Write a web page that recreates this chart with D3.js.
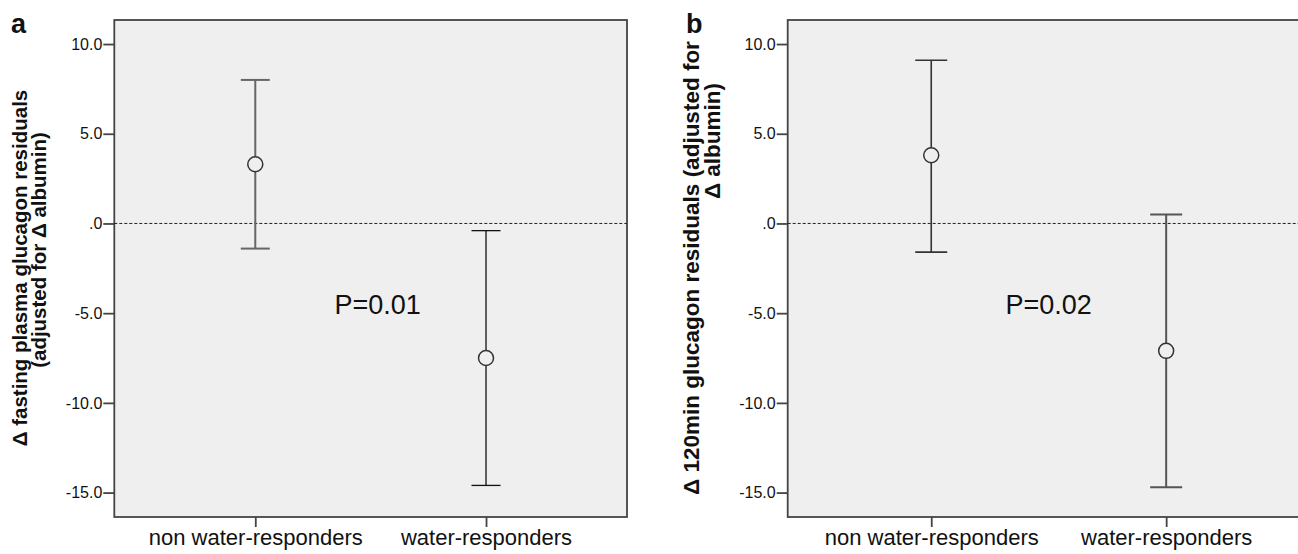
<!DOCTYPE html>
<meta charset="utf-8">
<script src="https://d3js.org/d3.v7.min.js"></script>
<style>
  body { margin: 0; background: #fff; }
  text { font-family: "Liberation Sans", Arial, sans-serif; fill: #111; }
</style>
<div id="chart"></div>
<script>
// data
var groups = ["non water-responders", "water-responders"];
var meanA = [3.3, -7.5];
var lowerA = [-1.4, -14.6];
var upperA = [8.0, -0.4];
var meanB = [3.8, -7.1];
var lowerB = [-1.6, -14.7];
var upperB = [9.1, 0.5];
var yTicks = [10, 5, 0, -5, -10, -15];
var yTickLabels = ["10.0", "5.0", ".0", "-5.0", "-10.0", "-15.0"];
var pLabels = ["P=0.01", "P=0.02"];
var panelLetters = ["a", "b"];
var titleA = ["\u0394 fasting plasma glucagon residuals", "(adjusted for \u0394 albumin)"];
var titleB = ["\u0394 120min glucagon residuals (adjusted for", "\u0394 albumin)"];

var W = 1298, H = 554;
var top_ = 20, bottom_ = 517;

var svg = d3.select("#chart").append("svg")
    .attr("width", W)
    .attr("height", H);

var y = d3.scaleLinear()
    .domain([-16.36, 11.34])
    .range([bottom_, top_]);

var panels = [
    { left: 114.3, width: 512.7, mean: meanA, lower: lowerA, upper: upperA, title: titleA,
      titleSize: 20.5, titleX: [27, 46], titleY: [268, 250], cap: 14.5,
      barColor: ["#666", "#111"], barWidth: [2, 1.3], pdx: 7 },
    { left: 787.7, width: 522, mean: meanB, lower: lowerB, upper: upperB, title: titleB,
      titleSize: 22.5, titleX: [699, 720], titleY: [268, 141], cap: 16,
      barColor: ["#333", "#555"], barWidth: [1.6, 2], pdx: 0 }
];

panels.forEach(function(p, pi) {
    var g = svg.append("g");
    var x = d3.scalePoint()
        .domain(groups)
        .range([p.left, p.left + p.width])
        .padding(0.611);

    // plot background + frame
    g.append("rect")
        .attr("x", p.left).attr("y", top_)
        .attr("width", p.width).attr("height", bottom_ - top_)
        .attr("fill", "#efefef")
        .attr("stroke", "#444")
        .attr("stroke-width", 1.8);

    // y axis
    var yAxis = d3.axisLeft(y)
        .tickValues(yTicks)
        .tickSize(11)
        .tickSizeOuter(0)
        .tickPadding(1)
        .tickFormat(function(d, i) { return yTickLabels[i]; });
    var ya = g.append("g")
        .attr("transform", "translate(" + p.left + ",0)")
        .call(yAxis);
    ya.select(".domain").remove();
    ya.selectAll("line").attr("stroke", "#444").attr("stroke-width", 1.8);
    ya.selectAll("text")
        .style("font-family", "Liberation Sans, Arial, sans-serif")
        .style("font-size", "16px")
        .attr("fill", "#111");

    // x axis
    var xAxis = d3.axisBottom(x).tickSize(10).tickSizeOuter(0).tickPadding(2);
    var xa = g.append("g")
        .attr("transform", "translate(0," + bottom_ + ")")
        .call(xAxis);
    xa.select(".domain").remove();
    xa.selectAll("line").attr("stroke", "#444").attr("stroke-width", 1.8);
    xa.selectAll("text")
        .style("font-family", "Liberation Sans, Arial, sans-serif")
        .style("font-size", "22px")
        .attr("fill", "#111");

    // reference line at 0
    g.append("line")
        .attr("x1", p.left).attr("x2", p.left + p.width)
        .attr("y1", y(0)).attr("y2", y(0))
        .attr("stroke", "#222")
        .attr("stroke-width", 1)
        .attr("stroke-dasharray", "3,2");

    // error bars
    var rows = groups.map(function(k, i) {
        return { key: k, i: i, mean: p.mean[i], lo: p.lower[i], hi: p.upper[i] };
    });
    var bars = g.selectAll(".bar").data(rows).enter().append("g").attr("class", "bar");
    bars.append("line")
        .attr("x1", function(d) { return x(d.key); })
        .attr("x2", function(d) { return x(d.key); })
        .attr("y1", function(d) { return y(d.hi); })
        .attr("y2", function(d) { return y(d.lo); })
        .attr("stroke", function(d) { return p.barColor[d.i]; })
        .attr("stroke-width", function(d) { return p.barWidth[d.i]; });
    ["hi", "lo"].forEach(function(end) {
        bars.append("line")
            .attr("x1", function(d) { return x(d.key) - p.cap; })
            .attr("x2", function(d) { return x(d.key) + p.cap; })
            .attr("y1", function(d) { return y(d[end]); })
            .attr("y2", function(d) { return y(d[end]); })
            .attr("stroke", function(d) { return p.barColor[d.i]; })
            .attr("stroke-width", function(d) { return p.barWidth[d.i]; });
    });
    bars.append("circle")
        .attr("cx", function(d) { return x(d.key); })
        .attr("cy", function(d) { return y(d.mean); })
        .attr("r", 7.5)
        .attr("fill", "#efefef")
        .attr("stroke", "#333")
        .attr("stroke-width", 1.5);

    // p value
    g.append("text")
        .attr("x", (x(groups[0]) + x(groups[1])) / 2 + p.pdx)
        .attr("y", y(-5.05))
        .attr("text-anchor", "middle")
        .style("font-size", "27px")
        .text(pLabels[pi]);

    // y title (two lines, rotated)
    p.title.forEach(function(t, li) {
        g.append("text")
            .attr("transform", "translate(" + p.titleX[li] + "," + p.titleY[li] + ") rotate(-90)")
            .attr("text-anchor", "middle")
            .style("font-weight", "bold")
            .style("font-size", p.titleSize + "px")
            .text(t);
    });

    // panel letter
    g.append("text")
        .attr("x", pi === 0 ? 11 : 686)
        .attr("y", 33)
        .style("font-weight", "bold")
        .style("font-size", "27px")
        .text(panelLetters[pi]);
});
</script>
